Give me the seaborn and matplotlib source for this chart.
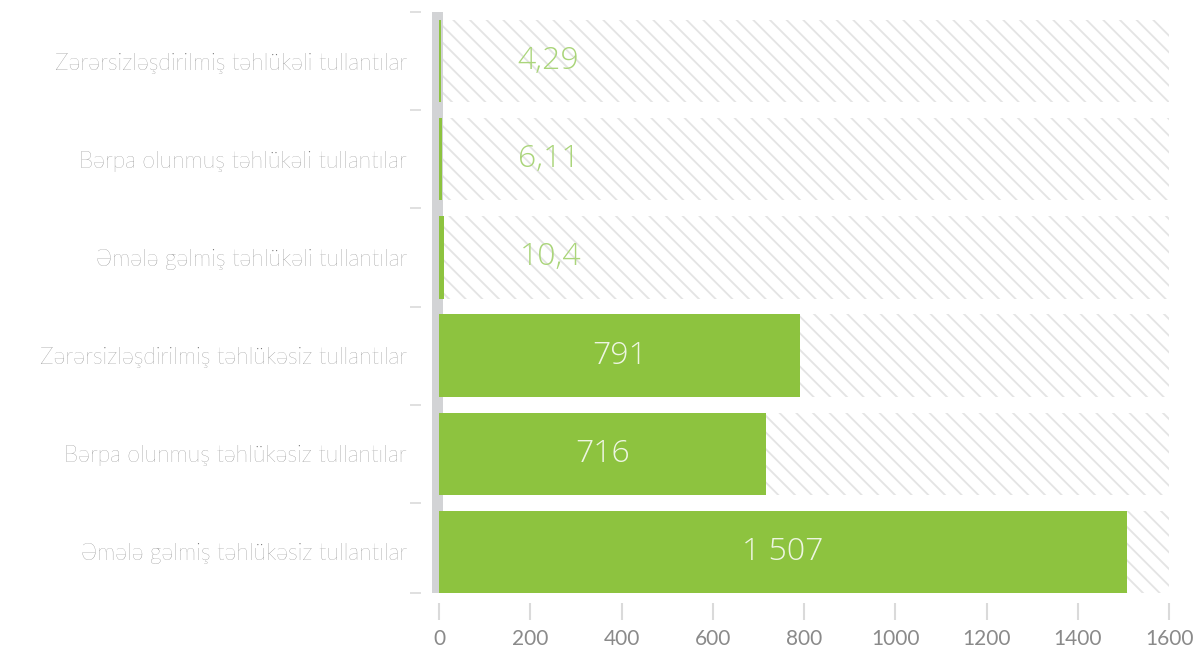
import numpy as np
import pandas as pd
import seaborn as sns
from matplotlib import pyplot as plt
from matplotlib.ticker import FixedLocator

# data
categories = [
    'Zərərsizləşdirilmiş təhlükəli tullantılar',
    'Bərpa olunmuş təhlükəli tullantılar',
    'Əmələ gəlmiş təhlükəli tullantılar',
    'Zərərsizləşdirilmiş təhlükəsiz tullantılar',
    'Bərpa olunmuş təhlükəsiz tullantılar',
    'Əmələ gəlmiş təhlükəsiz tullantılar',
]
values = [4.29, 6.11, 10.4, 791, 716, 1507]
value_labels = ['4,29', '6,11', '10,4', '791', '716', '1 507']
x_ticks = [0, 200, 400, 600, 800, 1000, 1200, 1400, 1600]
scale_max = 1600

sns.set_style('white')
plt.rcParams['font.family'] = ['Lato', 'DejaVu Sans']
plt.rcParams['hatch.linewidth'] = 1.3

df = pd.DataFrame({'cat': categories, 'val': values})

fig = plt.figure(figsize=(11.98, 6.49), dpi=100)
ax = fig.add_axes([0.35142, 0.08629, 0.62938, 0.89522])

green = '#8dc33f'
# hatched background bars up to the scale max
ax.barh(np.arange(len(categories)), [scale_max] * len(categories), height=0.84,
        color='white', hatch='\\\\', edgecolor='#e4e4e4', linewidth=0, zorder=1)
# grey base strip
ax.axvspan(-15, 9.5, color='#d2d3d5', zorder=2, lw=0)

sns.barplot(data=df, y='cat', x='val', orient='h', color=green, width=0.84,
            saturation=1, linewidth=0, ax=ax)
for p in ax.patches[-len(categories):]:
    p.set_zorder(3)

num_font = ['Open Sans', 'DejaVu Sans']
for i, (v, lab) in enumerate(zip(values, value_labels)):
    if v > 100:
        ax.text(v / 2, i, lab, ha='center', va='center', color='white',
                fontsize=23, fontweight='light', family=num_font, alpha=0.85, zorder=4)
    else:
        ax.annotate(lab, (v, i), xytext=(55, 0), textcoords='offset points',
                    ha='left', va='center', color='#aad57a', fontsize=23,
                    fontweight='light', family=num_font, zorder=4)

ax.set_xlim(-39.5, 1613)
ax.set_ylim(5.418, -0.5)

ax.xaxis.set_major_locator(FixedLocator(x_ticks))
ax.set_xticklabels([str(t) for t in x_ticks], fontweight='light')
ax.tick_params(axis='x', length=12, width=1.5, color='#dadada', pad=7,
               labelsize=15, labelcolor='#8a8a8a', bottom=True)
ax.spines['bottom'].set_position(('outward', 7))

ax.yaxis.set_minor_locator(FixedLocator(list(np.arange(len(categories)) - 0.5) + [5.418]))
ax.set_yticks(range(len(categories)))
ax.set_yticklabels(categories, fontweight='light')
ax.tick_params(axis='y', which='major', length=0, pad=10, labelsize=16.5,
               labelcolor='#707070')
ax.tick_params(axis='y', which='minor', length=8, width=1.2, color='#dadada', left=True)

for s in ax.spines.values():
    s.set_visible(False)
ax.set_xlabel('')
ax.set_ylabel('')
ax.grid(False)

fig.savefig('out.png', dpi=100)
